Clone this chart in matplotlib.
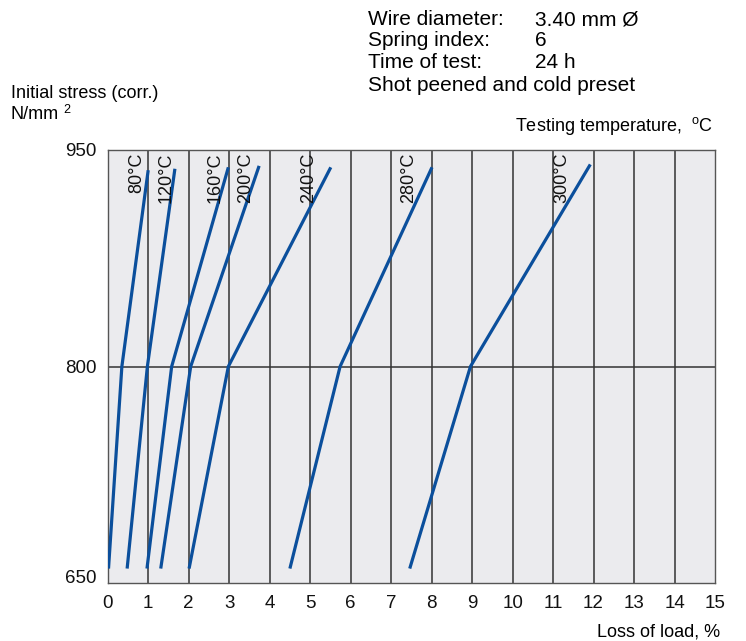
import matplotlib.pyplot as plt

plt.rcParams['font.family'] = ['Liberation Sans', 'DejaVu Sans']
plt.rcParams['mathtext.fontset'] = 'custom'
plt.rcParams['mathtext.rm'] = 'Liberation Sans'
plt.rcParams['mathtext.it'] = 'Liberation Sans:italic'

# Loss of load (%) read at the start, the 800 N/mm2 knee and the top of each curve
labels = ['80°C', '120°C', '160°C', '200°C', '240°C', '280°C', '300°C']
loss_80 = [0.02, 0.35, 1.00]
loss_120 = [0.48, 0.98, 1.66]
loss_160 = [0.97, 1.58, 2.98]
loss_200 = [1.31, 2.05, 3.74]
loss_240 = [2.01, 2.98, 5.51]
loss_280 = [4.50, 5.74, 8.01]
loss_300 = [7.46, 8.96, 11.92]
stress_low = 660
stress_knee = 800
stress_top = [936, 937, 938, 939, 938, 938, 940]
label_x = [0.72, 1.44, 2.65, 3.41, 4.97, 7.44, 11.22]

x_ticks = list(range(0, 16))
y_ticks = [650, 800, 950]

curves = [loss_80, loss_120, loss_160, loss_200, loss_240, loss_280, loss_300]

W, H = 746, 641
fig = plt.figure(figsize=(W / 100, H / 100), dpi=100)
ax = fig.add_axes([107.7 / W, 1 - 583 / H, (715 - 107.7) / W, (583 - 150) / H])
ax.set_facecolor('#ebebee')

for x in x_ticks[1:-1]:
    ax.axvline(x, color='#333333', lw=1.1, zorder=1)
ax.axhline(800, color='#333333', lw=1.1, zorder=1)

blue = '#0b4f9c'
for loss, top, lab, lx in zip(curves, stress_top, labels, label_x):
    ax.plot(loss, [stress_low, stress_knee, top], color=blue, lw=2.3,
            solid_joinstyle='round', solid_capstyle='butt', zorder=3)
    ax.text(lx, 948.5, lab, rotation=90, ha='center', va='top',
            fontsize=13, color='#111111', zorder=4)

ax.set_xlim(0, 15)
ax.set_ylim(650, 950)
ax.set_xticks(x_ticks)
ax.set_yticks(y_ticks)
ax.tick_params(length=0, labelsize=13.5, colors='#111111')
ax.tick_params(axis='x', pad=9)
ax.tick_params(axis='y', pad=8)
ax.get_yticklabels()[0].set_va('baseline')
for s in ax.spines.values():
    s.set_color('#555555')
    s.set_linewidth(1.0)

# header block
hdr = [('Wire diameter:', '3.40 mm Ø'), ('Spring index:', '6'), ('Time of test:', '24 h')]
base_y = [25, 46.5, 68.5]
for (a, b), y in zip(hdr, base_y):
    fig.text(368 / W, 1 - y / H, a, fontsize=15, va='baseline')
    fig.text(535 / W, 1 - y / H, b, fontsize=15, va='baseline')
fig.text(368 / W, 1 - 91 / H, 'Shot peened and cold preset', fontsize=15, va='baseline')

fig.text(11 / W, 1 - 98.5 / H, 'Initial stress (corr.)', fontsize=13, va='baseline')
fig.text(11 / W, 1 - 119 / H, 'N/mm', fontsize=13, va='baseline')
fig.text(63 / W, 1 - 113 / H, '2', fontsize=9, va='baseline')
fig.text(713 / W, 1 - 131 / H, 'Testing temperature,  $^{\\mathrm{o}}$C', fontsize=13,
         ha='right', va='baseline')
fig.text(720 / W, 1 - 636.5 / H, 'Loss of load, %', fontsize=13, ha='right', va='baseline')

fig.savefig('out.png', dpi=100)
